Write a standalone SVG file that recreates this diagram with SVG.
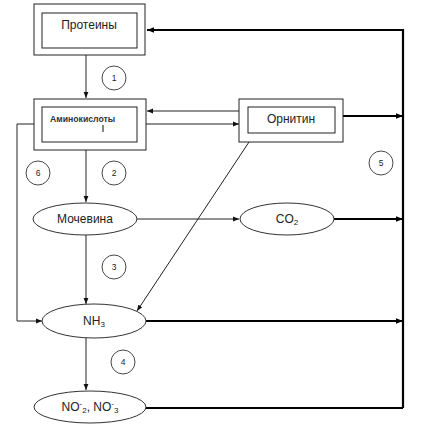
<svg xmlns="http://www.w3.org/2000/svg" width="424" height="443" viewBox="0 0 424 443">
<defs>
<marker id="a" viewBox="0 0 10 10" refX="10" refY="5" markerWidth="6" markerHeight="6" markerUnits="userSpaceOnUse" orient="auto"><path d="M0,1 L10,5 L0,9 Z" fill="#111"/></marker>
<marker id="ab" viewBox="0 0 10 10" refX="10" refY="5" markerWidth="8" markerHeight="7" markerUnits="userSpaceOnUse" orient="auto"><path d="M0,1 L10,5 L0,9 Z" fill="#000"/></marker>
</defs>
<style>
.box{fill:#fff;stroke:#222;stroke-width:1}
.ell{fill:#fff;stroke:#333;stroke-width:1}
.thin{fill:none;stroke:#222;stroke-width:1}
.thick{fill:none;stroke:#000;stroke-width:2.2}
.num{fill:#fff;stroke:#333;stroke-width:0.9}
.t{font-family:"Liberation Sans",Arial,sans-serif;font-size:12px;fill:#222;text-anchor:middle}
.n{font-family:"Liberation Sans",Arial,sans-serif;font-size:8.5px;fill:#222;text-anchor:middle}
</style>
<rect width="424" height="443" fill="#fff"/>
<g id="connectors">
<path class="thin" d="M86,55 V98" marker-end="url(#a)"/>
<path class="thin" d="M86,150 V202" marker-end="url(#a)"/>
<path class="thin" d="M86,235 V304" marker-end="url(#a)"/>
<path class="thin" d="M86,338 V390" marker-end="url(#a)"/>
<path class="thin" d="M240,111 H147" marker-end="url(#a)"/>
<path class="thin" d="M146,124 H239" marker-end="url(#a)"/>
<path class="thin" d="M34,124 H17 V321 H42" marker-end="url(#a)"/>
<path class="thin" d="M137,219 H239" marker-end="url(#a)"/>
<path class="thin" d="M249,142 L137,311" marker-end="url(#a)"/>
<path class="thick" d="M403,408 V30 H147" marker-end="url(#ab)"/>
<path class="thick" d="M343,116 H403" marker-end="url(#ab)"/>
<path class="thick" d="M334,219 H403" marker-end="url(#ab)"/>
<path class="thick" d="M146,321 H403" marker-end="url(#ab)"/>
<path class="thick" d="M146,408 H403"/>
</g>
<g id="proteiny">
<rect class="box" x="34" y="4" width="111" height="51"/>
<rect class="box" x="42" y="13" width="95" height="35"/>
<text class="t" x="89" y="29">Протеины</text>
</g>
<g id="aminokisloty">
<rect class="box" x="34" y="99" width="112" height="51"/>
<rect class="box" x="42" y="107" width="95" height="35"/>
<text x="50" y="122" style="font-family:'Liberation Sans',Arial,sans-serif;font-size:8.7px;font-weight:bold;fill:#333">Аминокислоты</text>
<line x1="103" y1="125" x2="103" y2="132" stroke="#111" stroke-width="1"/>
</g>
<g id="ornitin">
<rect class="box" x="239" y="99" width="104" height="43"/>
<rect class="box" x="248" y="107" width="87" height="26"/>
<text class="t" x="291" y="123">Орнитин</text>
</g>
<g id="mochevina">
<ellipse class="ell" cx="85" cy="219" rx="52" ry="16"/>
<text class="t" x="85" y="223">Мочевина</text>
</g>
<g id="co2">
<ellipse class="ell" cx="287" cy="219" rx="47" ry="16"/>
<text class="t" x="287" y="223">CO<tspan font-size="8" dy="2">2</tspan></text>
</g>
<g id="nh3">
<ellipse class="ell" cx="94" cy="321" rx="52" ry="17"/>
<text class="t" x="94" y="325">NH<tspan font-size="8" dy="2">3</tspan></text>
</g>
<g id="no">
<ellipse class="ell" cx="90" cy="407" rx="56" ry="16"/>
<text class="t" x="90" y="411">NO<tspan font-size="8" dy="-5">-</tspan><tspan font-size="8" dy="7">2</tspan><tspan dy="-2">, NO</tspan><tspan font-size="8" dy="-5">-</tspan><tspan font-size="8" dy="7">3</tspan></text>
</g>
<g id="num1"><circle class="num" cx="114" cy="78" r="12"/><text class="n" x="114" y="81">1</text></g>
<g id="num2"><circle class="num" cx="114" cy="173" r="12"/><text class="n" x="114" y="176">2</text></g>
<g id="num3"><circle class="num" cx="114" cy="267" r="12"/><text class="n" x="114" y="270">3</text></g>
<g id="num4"><circle class="num" cx="123" cy="362" r="12"/><text class="n" x="123" y="365">4</text></g>
<g id="num5"><circle class="num" cx="381" cy="163" r="12"/><text class="n" x="381" y="166">5</text></g>
<g id="num6"><circle class="num" cx="38" cy="173" r="12"/><text class="n" x="38" y="176">6</text></g>
</svg>
